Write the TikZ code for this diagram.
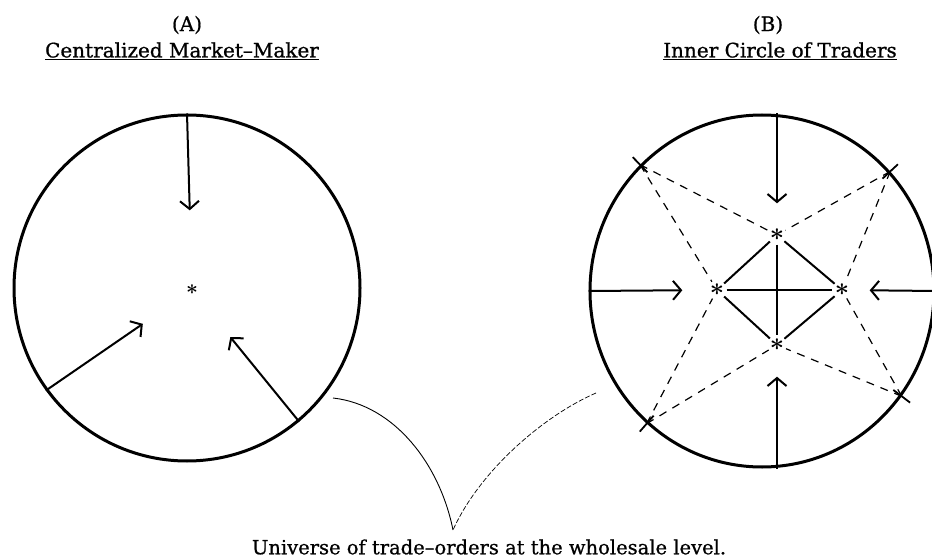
\documentclass[tikz,border=0pt]{standalone}
\usepackage{fontspec}
\setmainfont{DejaVu Serif}[FakeBold=0.8]
\usetikzlibrary{arrows.meta,calc,shapes.geometric}

\begin{document}
\begin{tikzpicture}[x=1pt,y=-1pt,
  ring/.style={line width=3pt},
  flow/.style={line width=2pt,shorten >=22pt,-{Straight Barb[length=8pt,width=19pt]}},
  link/.style={line width=2pt},
  guide/.style={line width=1.2pt,dash pattern=on 8pt off 7pt},
  crossmark/.style={line width=1.8pt},
  trader/.style={circle,inner sep=0pt,minimum size=19pt,font=\fontsize{30}{30}\selectfont\boldmath},
  heading/.style={font=\fontsize{20}{22}\selectfont},
  note/.style={line width=0.9pt}]
\useasboundingbox (0,0) rectangle (932,559);
% Left: one market-maker in the middle
\node[heading] (labA) at (187,25) {(A)};
\node[heading] (titA) at (182,51) {\underline{Centralized Market--Maker}};
\node[ring,draw,circle,inner sep=0pt,minimum size=346pt] (poolA) at (187,288) {};
\node[trader,font=\fontsize{22}{22}\selectfont\boldmath] (maker) at (192,290) {$\ast$};
\draw[flow,shorten >=70pt] (poolA.north) -- (maker);
\draw[flow,shorten >=50pt] (poolA.216) -- (maker);
\draw[flow,shorten >=51pt] (poolA.310) -- (maker);
% Right: four traders in an inner circle
\node[heading] (labB) at (768,25) {(B)};
\node[heading] (titB) at (780,51) {\underline{Inner Circle of Traders}};
\node[ring,draw,ellipse,inner sep=0pt,minimum width=344pt,minimum height=352pt] (poolB) at (762,291) {};
\node[trader] (bTop) at (777,235) {$\ast$};
\node[trader] (bLeft) at (717,290) {$\ast$};
\node[trader] (bRight) at (842,290) {$\ast$};
\node[trader] (bBot) at (777,345) {$\ast$};
\draw[link] (bTop) -- (bRight) -- (bBot) -- (bLeft) -- (bTop);
\draw[link] (bLeft) -- (bRight);
\draw[link] (bTop) -- (bBot);
\draw[flow] (poolB.north -| bTop) -- (bTop);
\draw[flow,shorten >=25pt] (poolB.west) -- (bLeft);
\draw[flow,shorten >=18pt] (poolB.east) -- (bRight);
\draw[flow] (poolB.south -| bBot) -- (bBot);
\foreach \a/\n in {134/tUL,43/tUR,229/tLL,323/tLR}
  \coordinate (\n) at (poolB.\a);
\foreach \n in {tUL,tUR,tLL,tLR}
  \draw[crossmark] ($(poolB.center)!0.94!(\n)$) -- ($(poolB.center)!1.06!(\n)$);
\draw[guide] (tUL) -- (bTop);  \draw[guide] (tUL) -- (bLeft);
\draw[guide] (tUR) -- (bTop);  \draw[guide] (tUR) -- (bRight);
\draw[guide] (tLL) -- (bLeft); \draw[guide] (tLL) -- (bBot);
\draw[guide] (tLR) -- (bBot);  \draw[guide] (tLR) -- (bRight);
% Bottom: the common label
\node[heading,font=\fontsize{19.5}{22}\selectfont] (univ) at (489,547) {Universe of trade--orders at the wholesale level.};
\coordinate (tip) at (453,530);
\coordinate (fromA) at (333,398);
\coordinate (fromB) at (596,393);
\draw[note] (fromA) .. controls (395,405) and (440,465) .. (tip);
\draw[note,line width=0.7pt,dash pattern=on 5pt off 2pt] (fromB) .. controls (545,415) and (480,470) .. (tip);
\end{tikzpicture}
\end{document}
